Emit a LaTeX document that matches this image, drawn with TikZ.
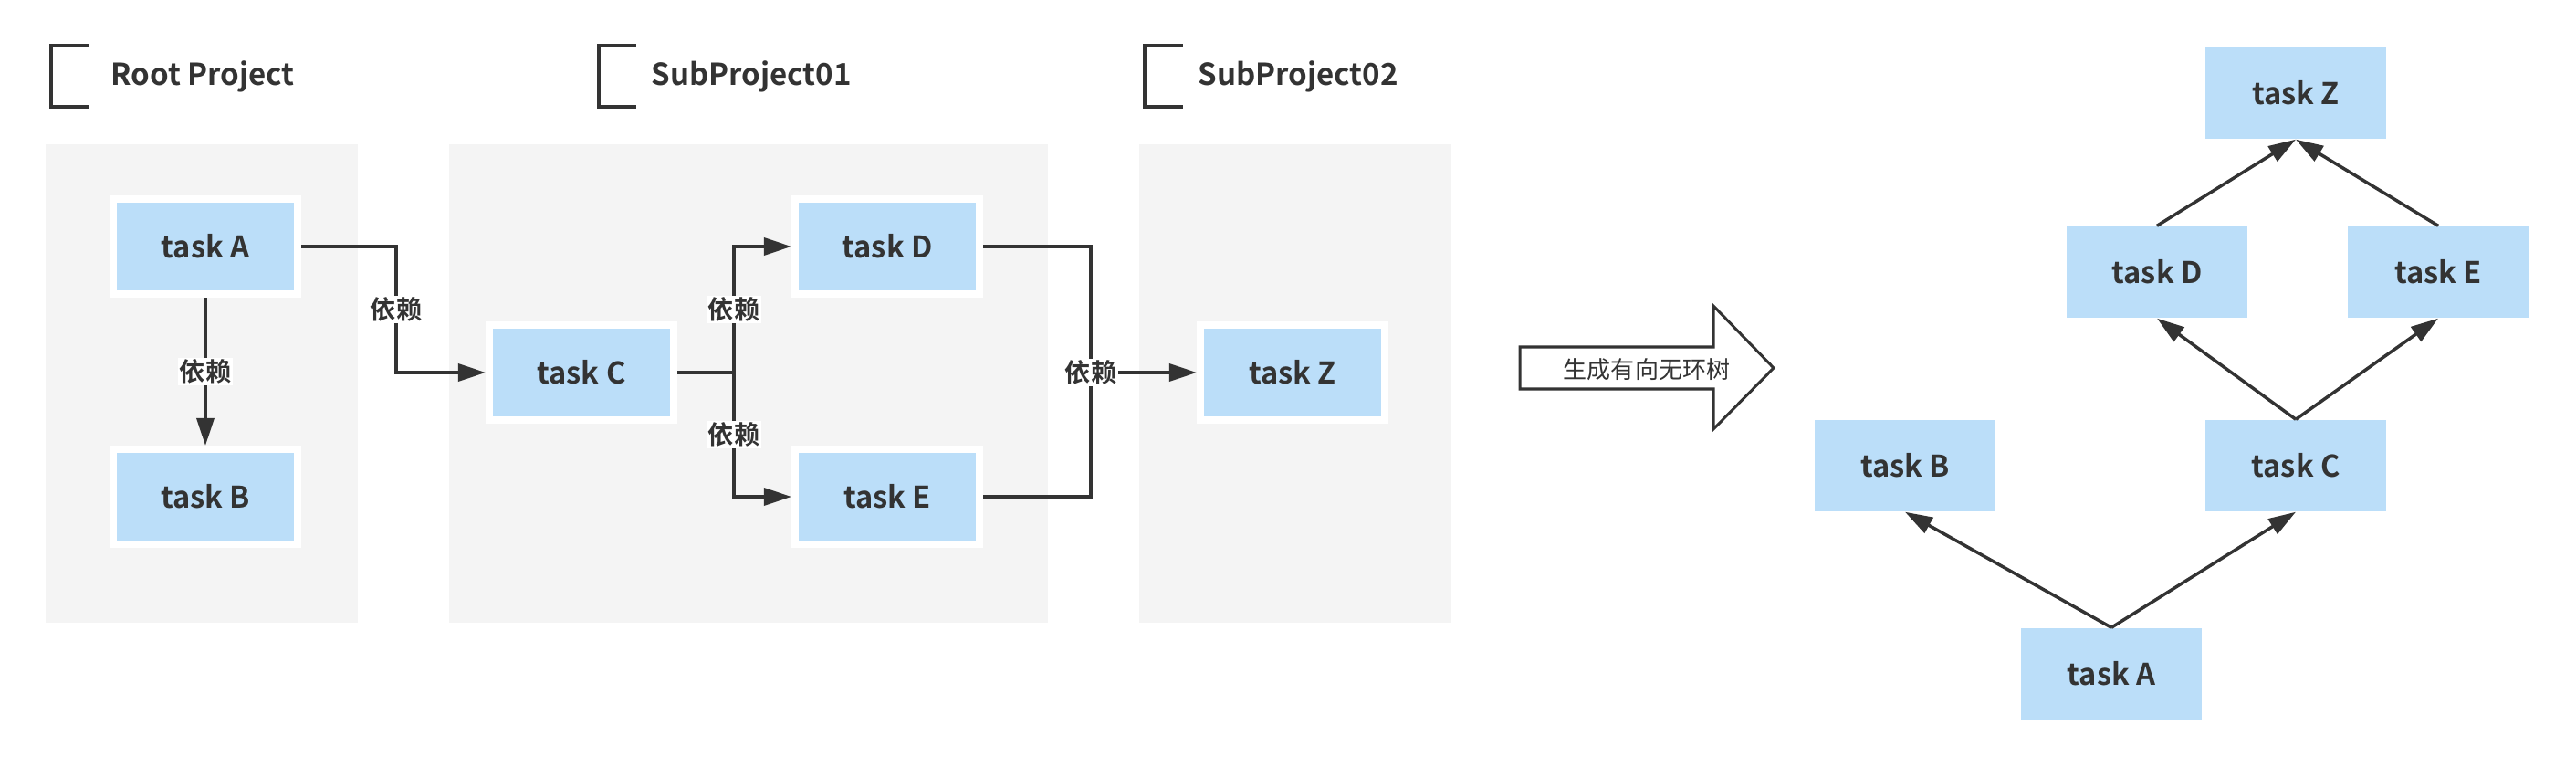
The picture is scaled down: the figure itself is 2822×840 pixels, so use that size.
\documentclass[tikz,border=0pt]{standalone}
\usepackage{fontspec}
\setmainfont{Noto Sans CJK SC}[BoldFont={Noto Sans CJK SC Bold}]
\usetikzlibrary{arrows.meta, positioning}
\definecolor{taskblue}{RGB}{187,222,249}
\definecolor{panelgray}{RGB}{244,244,244}
\definecolor{darkline}{RGB}{51,51,51}

\tikzset{
  task/.style={fill=taskblue, draw=white, line width=0.08cm, minimum width=2.02cm, minimum height=1.04cm,
    inner sep=0pt, text=darkline, font=\bfseries\fontsize{9.3}{11}\selectfont},
  treetask/.style={fill=taskblue, minimum width=1.98cm, minimum height=1cm,
    inner sep=0pt, text=darkline, font=\bfseries\fontsize{9.3}{11}\selectfont},
  conn/.style={draw=darkline, line width=0.035cm},
  dep/.style={conn, -{Triangle[length=0.3cm, width=0.19cm]}},
  lbl/.style={fill=white, inner sep=0.6pt, text=darkline, font=\bfseries\fontsize{8}{9.6}\selectfont},
  title/.style={anchor=west, inner sep=0pt, text=darkline, font=\bfseries\fontsize{9.4}{11.5}\selectfont},
}

\begin{document}
\begin{tikzpicture}[x=0.01cm, y=-0.01cm]
  \useasboundingbox (0,0) rectangle (2822,840);

  % project panels
  \fill[panelgray] (50,158) rectangle (392,682);
  \fill[panelgray] (492,158) rectangle (1148,682);
  \fill[panelgray] (1248,158) rectangle (1590,682);

  % project headings
  \draw[darkline, line width=0.035cm] (98,50) -- (56,50) -- (56,117) -- (98,117);
  \node[title] (hroot) at (121,84) {Root Project};
  \draw[darkline, line width=0.035cm] (697,50) -- (656,50) -- (656,117) -- (697,117);
  \node[title] (hsub1) at (713,84) {SubProject01};
  \draw[darkline, line width=0.035cm] (1296,50) -- (1254,50) -- (1254,117) -- (1296,117);
  \node[title] (hsub2) at (1312,84) {SubProject02};

  % tasks in the projects
  \node[task] (tA) at (225,270) {task A};
  \node[task] (tB) at (225,544) {task B};
  \node[task] (tC) at (637,408) {task C};
  \node[task] (tD) at (972,270) {task D};
  \node[task] (tE) at (972,544) {task E};
  \node[task] (tZ) at (1416,408) {task Z};

  % dependencies
  \draw[dep] (tA) -- node[lbl] {依赖} (tB);
  \draw[dep] (tA.east) -- ++(104,0) |- node[lbl, pos=0.25] {依赖} (tC.west);
  \coordinate (jC) at (804,408);
  \draw[conn] (tC.east) -- (jC);
  \draw[dep] (jC) |- node[lbl, pos=0.25] {依赖} (tD.west);
  \draw[dep] (jC) |- node[lbl, pos=0.25] {依赖} (tE.west);
  \coordinate (jZ) at (1195,408);
  \draw[conn] (tD.east) -| (jZ);
  \draw[conn] (tE.east) -| (jZ);
  \draw[dep] (jZ) -- (tZ.west);
  \node[lbl] (lZ) at (jZ) {依赖};

  % big arrow
  \draw[darkline, fill=white, line width=0.03cm, line join=miter]
    (1665,380) -- (1877,380) -- (1877,335) -- (1943,403) -- (1877,470) -- (1877,426) -- (1665,426) -- cycle;
  \node[text=darkline, font=\fontsize{7.4}{9}\selectfont] (gen) at (1804,405) {生成有向无环树};

  % resulting tree
  \node[treetask] (rZ) at (2515,102) {task Z};
  \node[treetask] (rD) at (2363,298) {task D};
  \node[treetask] (rE) at (2671,298) {task E};
  \node[treetask] (rB) at (2087,510) {task B};
  \node[treetask] (rC) at (2515,510) {task C};
  \node[treetask] (rA) at (2313,738) {task A};

  \draw[dep] (rD.north) -- (rZ.south);
  \draw[dep] (rE.north) -- (rZ.south);
  \draw[dep] (rC.north) -- (rD.south);
  \draw[dep] (rC.north) -- (rE.south);
  \draw[dep] (rA.north) -- (rB.south);
  \draw[dep] (rA.north) -- (rC.south);
\end{tikzpicture}
\end{document}
